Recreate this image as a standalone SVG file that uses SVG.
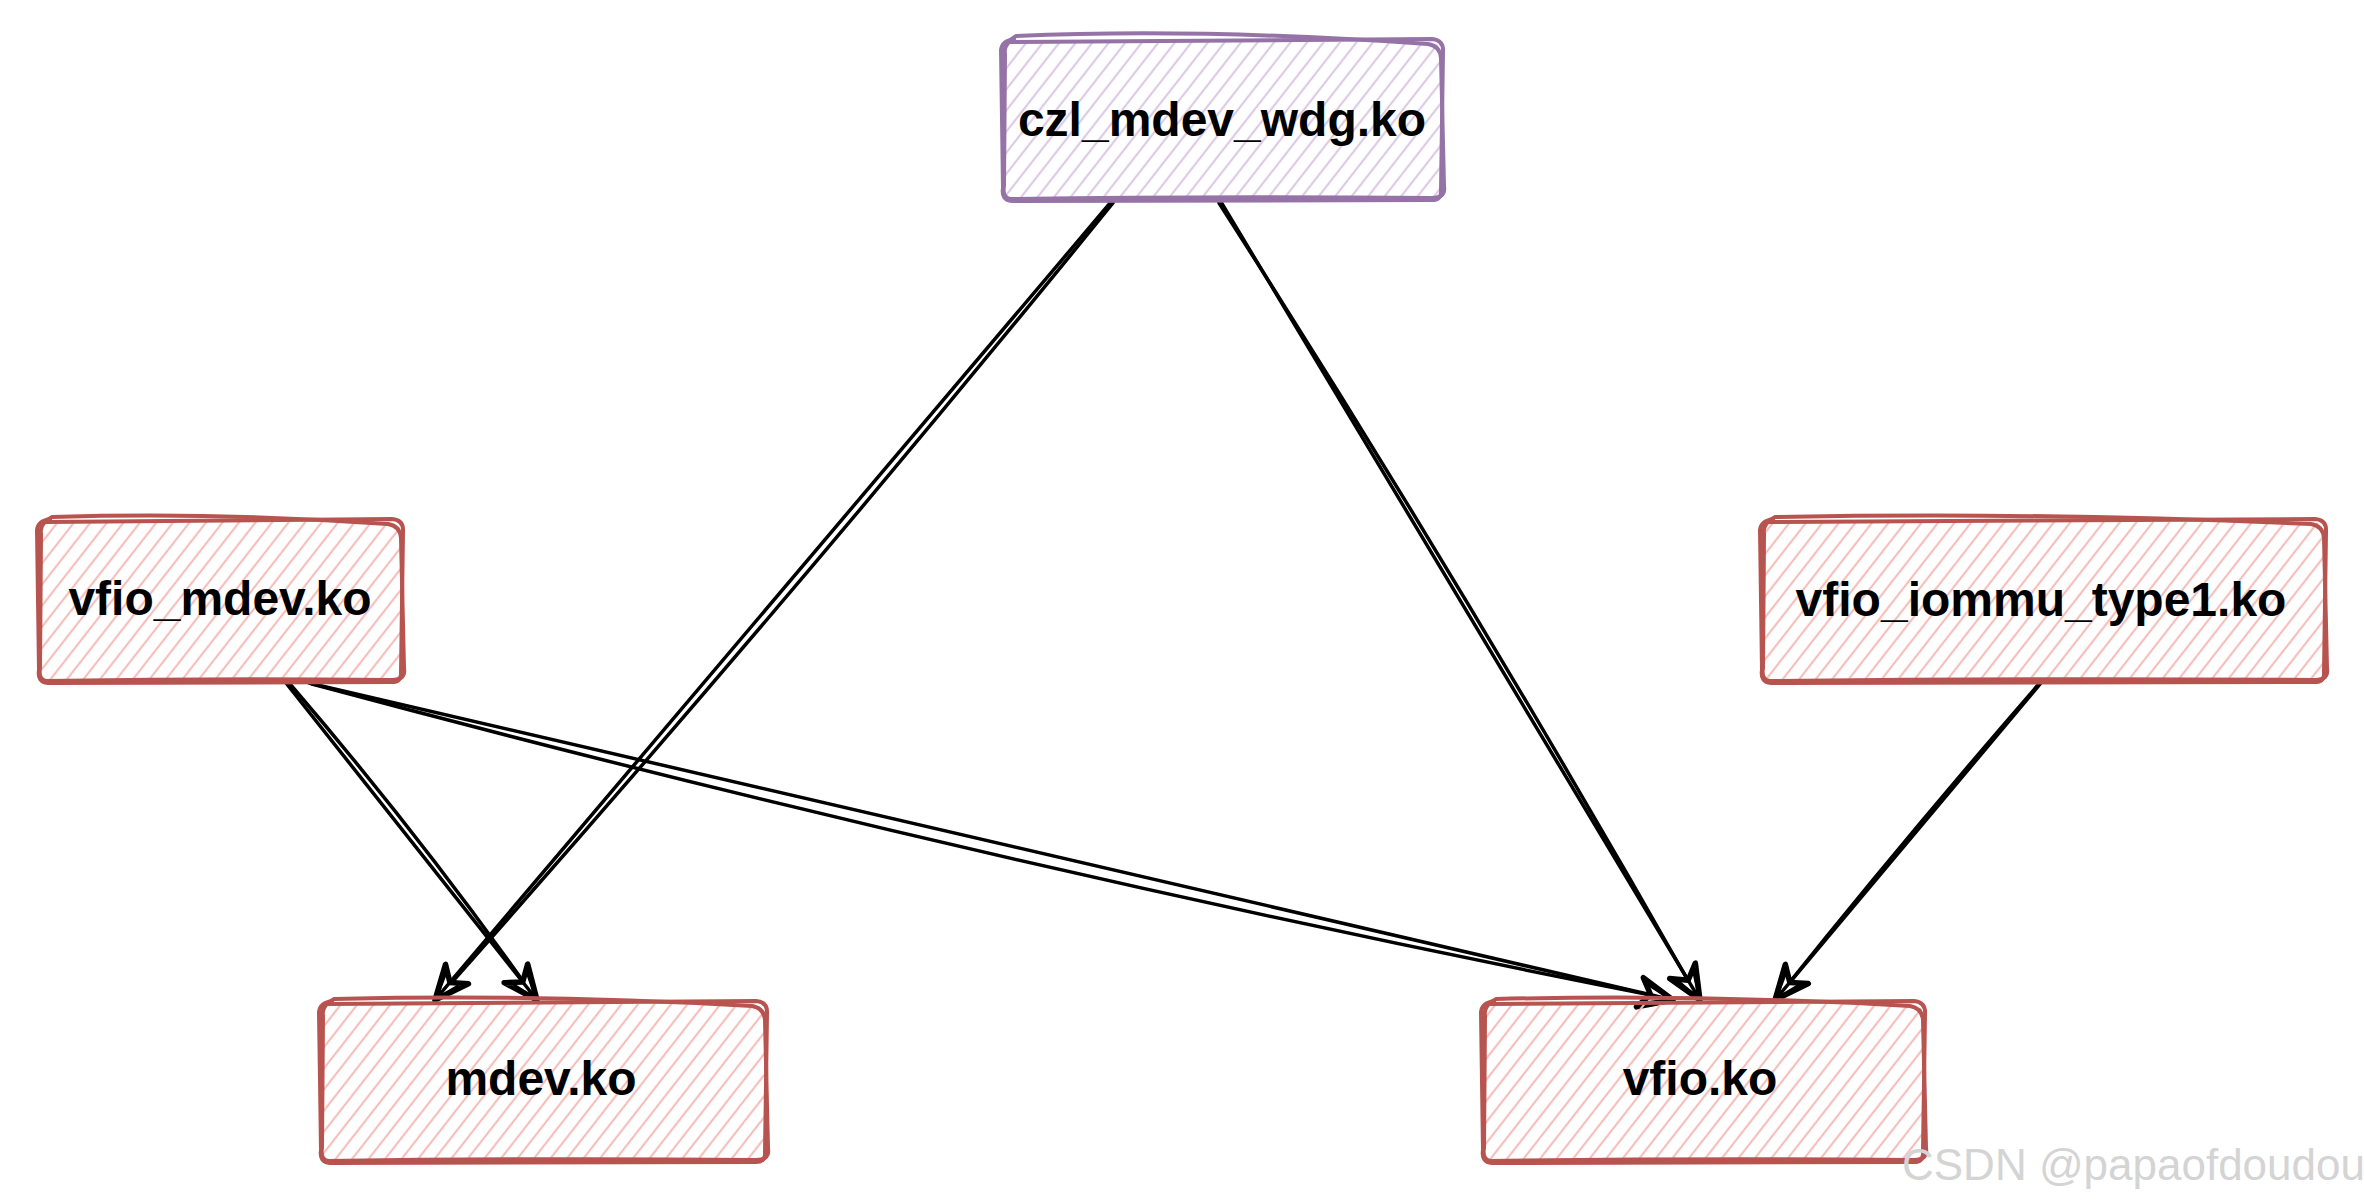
<svg xmlns="http://www.w3.org/2000/svg" xmlns:xlink="http://www.w3.org/1999/xlink" width="2364" height="1204" viewBox="0 0 2364 1204">
<style>
.lbl{font-family:"Liberation Sans",Arial,sans-serif;font-weight:bold;font-size:48px;text-anchor:middle;fill:#000}
.red{fill:none;stroke:#b85450;stroke-width:4;stroke-linejoin:round;stroke-linecap:round}
.pur{fill:none;stroke:#9673a6;stroke-width:4;stroke-linejoin:round;stroke-linecap:round}
.edge{fill:none;stroke:#000;stroke-width:3.5;stroke-linecap:round}
.wm{font-family:"Liberation Sans",Arial,sans-serif;font-size:44px;fill:#d4d4d4}
</style>
<defs>
<pattern id="hr" patternUnits="userSpaceOnUse" width="13" height="13" patternTransform="rotate(38)">
<line x1="3" y1="0" x2="3" y2="13" stroke="#f5bfbc" stroke-width="2.2"/>
</pattern>
<pattern id="hp" patternUnits="userSpaceOnUse" width="13" height="13" patternTransform="rotate(38)">
<line x1="3" y1="0" x2="3" y2="13" stroke="#dccbe4" stroke-width="2.2"/>
</pattern>
<g id="ah">
<path d="M0,0 L-34,-15 L-23,0 L-34,15 Z" fill="#fff" stroke="#000" stroke-width="5.5" stroke-linejoin="round"/>
<path d="M-3,-1 L-26,-9 M-3,1 L-26,9 M-6,0 L-23,0" stroke="#000" stroke-width="3.5" fill="none"/>
</g>
</defs>
<rect width="2364" height="1204" fill="#fff"/>

<g id="connectors">
<path class="edge" d="M1111,202 L435,1000"/>
<path class="edge" d="M1113,203 Q782,611 437,999"/>
<path class="edge" d="M1221,202 L1700,1000"/>
<path class="edge" d="M1219,203 Q1470,595 1698,998"/>
<path class="edge" d="M286,683 L537,1000"/>
<path class="edge" d="M290,684 Q420,835 535,998"/>
<path class="edge" d="M309,683 L1673,1000"/>
<path class="edge" d="M312,684 Q986,865 1671,999"/>
<path class="edge" d="M2041,683 L1775,1000"/>
<path class="edge" d="M2038,685 Q1905,838 1777,998"/>
<use xlink:href="#ah" href="#ah" transform="translate(435,1000) rotate(130.3)"/>
<use xlink:href="#ah" href="#ah" transform="translate(1700,1000) rotate(59)"/>
<use xlink:href="#ah" href="#ah" transform="translate(537,1000) rotate(51.6)"/>
<use xlink:href="#ah" href="#ah" transform="translate(1673,1000) rotate(13.1)"/>
<use xlink:href="#ah" href="#ah" transform="translate(1775,1000) rotate(130)"/>
</g>

<g id="czl_mdev_wdg">
<rect x="1004" y="42" width="437" height="157" rx="10" fill="url(#hp)"/>
<path class="pur" d="M1010,42 L1432,39 Q1444,40 1443,52 L1441,190 Q1442,201 1430,200 L1012,201 Q1001,200 1003,188 L1001,50 Q1002,41 1014,39"/>
<path class="pur" d="M1016,36 Q1200,28 1428,44 Q1440,46 1441,58 L1444,186 Q1446,198 1432,198 Q1200,196 1010,199 Q1002,197 1004,186 L1005,54 Q1003,44 1016,36"/>
<text class="lbl" x="1222" y="136">czl_mdev_wdg.ko</text>
</g>

<g id="vfio_mdev">
<rect x="40" y="522" width="361" height="159" rx="10" fill="url(#hr)"/>
<path class="red" d="M46,522 L392,519 Q404,520 403,532 L401,672 Q402,683 390,682 L48,683 Q37,682 39,670 L37,530 Q38,521 50,519"/>
<path class="red" d="M52,517 Q220,512 388,524 Q400,526 401,538 L404,668 Q406,680 392,680 Q220,678 46,681 Q38,679 40,668 L41,534 Q39,524 52,517"/>
<text class="lbl" x="220" y="615">vfio_mdev.ko</text>
</g>

<g id="vfio_iommu_type1">
<rect x="1763" y="522" width="561" height="159" rx="10" fill="url(#hr)"/>
<path class="red" d="M1769,522 L2315,519 Q2327,520 2326,532 L2324,672 Q2325,683 2313,682 L1771,683 Q1760,682 1762,670 L1760,530 Q1761,521 1773,519"/>
<path class="red" d="M1775,517 Q2043,512 2311,524 Q2323,526 2324,538 L2327,668 Q2329,680 2315,680 Q2043,678 1769,681 Q1761,679 1763,668 L1764,534 Q1762,524 1775,517"/>
<text class="lbl" x="2041" y="616">vfio_iommu_type1.ko</text>
</g>

<g id="mdev">
<rect x="322" y="1004" width="443" height="157" rx="10" fill="url(#hr)"/>
<path class="red" d="M328,1004 L756,1001 Q768,1002 767,1014 L765,1152 Q766,1163 754,1162 L330,1163 Q319,1162 321,1150 L319,1012 Q320,1003 332,1001"/>
<path class="red" d="M334,999 Q543,994 752,1006 Q764,1008 765,1020 L768,1148 Q770,1160 756,1160 Q543,1158 328,1161 Q320,1159 322,1148 L323,1016 Q321,1006 334,999"/>
<text class="lbl" x="541" y="1095">mdev.ko</text>
</g>

<g id="vfio">
<rect x="1484" y="1004" width="439" height="157" rx="10" fill="url(#hr)"/>
<path class="red" d="M1490,1004 L1914,1001 Q1926,1002 1925,1014 L1923,1152 Q1924,1163 1912,1162 L1492,1163 Q1481,1162 1483,1150 L1481,1012 Q1482,1003 1494,1001"/>
<path class="red" d="M1496,999 Q1703,994 1910,1006 Q1922,1008 1923,1020 L1926,1148 Q1928,1160 1914,1160 Q1703,1158 1490,1161 Q1482,1159 1484,1148 L1485,1016 Q1483,1006 1496,999"/>
<text class="lbl" x="1700" y="1095">vfio.ko</text>
</g>

<text class="wm" x="1902" y="1180">CSDN @papaofdoudou</text>
</svg>
